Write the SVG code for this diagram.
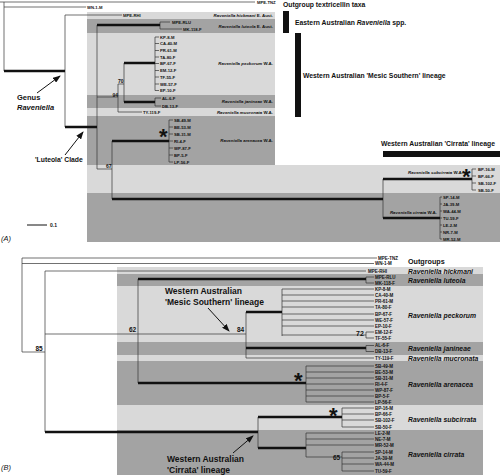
<svg xmlns="http://www.w3.org/2000/svg" width="500" height="475" viewBox="0 0 500 475">
<defs>
<style>
text{font-family:"Liberation Sans",Arial,sans-serif;fill:#111}
.lt{fill:#d9d9d9}.dk{fill:#a3a3a3}
.tn{fill:none;stroke:#333;stroke-width:0.7}
.tk{fill:none;stroke:#111;stroke-width:2.6}
.ta{font-size:4.2px;font-weight:bold}
.tb{font-size:4.5px;font-weight:bold}
.sa{font-size:4.4px;font-weight:bold;font-style:italic}
.sb{font-size:6.8px;font-weight:bold;font-style:italic}
.an{font-size:6.8px;font-weight:bold}
.bn{font-size:8.5px;font-weight:bold}
.nl{font-size:5px;font-weight:bold}
.nb{font-size:6.5px;font-weight:bold}
.st{font-size:22px;font-weight:bold}
.ar{stroke:#111;stroke-width:1;fill:none}
</style>
<marker id="ah" markerUnits="userSpaceOnUse" markerWidth="8" markerHeight="6" refX="7" refY="3" orient="auto"><path d="M0,0 L8,3 L0,6 z" fill="#111"/></marker>
</defs>
<rect width="500" height="475" fill="#fff"/>

<g id="bandsA">
<rect class="lt" x="87" y="12" width="188" height="7"/>
<rect class="dk" x="87" y="19" width="188" height="14"/>
<rect class="lt" x="87" y="33" width="188" height="62"/>
<rect class="dk" x="87" y="95" width="188" height="13"/>
<rect class="lt" x="87" y="108" width="188" height="8"/>
<rect class="dk" x="87" y="116" width="188" height="49"/>
<rect class="lt" x="87" y="165" width="413" height="28"/>
<rect class="dk" x="87" y="193" width="413" height="49"/>
</g>
<g id="bandsB">
<rect class="lt" x="117" y="267" width="366" height="7"/>
<rect class="dk" x="117" y="274" width="366" height="12"/>
<rect class="lt" x="117" y="286" width="366" height="56"/>
<rect class="dk" x="117" y="342" width="366" height="13"/>
<rect class="lt" x="117" y="355" width="366" height="6"/>
<rect class="dk" x="117" y="361" width="366" height="44"/>
<rect class="lt" x="117" y="405" width="366" height="25"/>
<rect class="dk" x="117" y="430" width="366" height="45"/>
</g>

<g id="connectors">
<!-- panel A -->
<path class="tn" d="M0,2 H255 M4,2 V71 M4,7 H86 M65,15 V127 M65,15 H122 M97,25 V169 M160,22 V29 M160,22 H170 M160,29 H182 M97,97 H118 M118,84 V112 M118,84 H124 M118,112 H142 M124,63 V102 M155,37 V90.5 M155,37 H159 M155,43.5 H159 M155,50.5 H159 M155,57 H159 M155,63.5 H159 M155,70.5 H159 M155,77 H159 M155,84 H159 M155,90.5 H159 M155,98 V106 M155,98 H161 M155,106 H161 M97,169 H112 M112,141 V199 M169,120 V162 M169,120 H173 M169,127 H173 M169,134 H173 M169,141 H173 M169,148 H173 M169,155 H173 M169,162 H173 M383,179 V218 M472,169 V190 M472,169 H476 M472,176 H476 M472,183 H476 M472,190 H476 M440,197 V239 M440,197 H442 M440,204 H442 M440,211 H442 M440,218 H442 M440,225 H442 M440,232 H442 M440,239 H442"/>
<path class="tk" d="M4,71 H65 M65,127 H97 M97,25 H160 M124,63 H155 M124,102 H155 M112,141 H169 M112,199 H383 M383,179 H472 M383,218 H440"/>
<!-- panel B -->
<path class="tn" d="M22,258 H377 M22,263.5 H374 M22,258 V352 M22,352 H45 M45,271 V432 M45,271 H366 M45,334 H246 M138,279 V383 M366,277 V283 M366,277 H374 M366,283 H374 M246,312 V358 M282,289 V336 M282,289 H374 M282,295 H374 M282,301 H374 M282,307 H374 M282,314 H374 M282,320 H374 M282,326 H374 M282,335 H366 M366,332 V338 M366,332 H374 M366,338 H374 M366,345.5 V351.5 M366,345.5 H374 M366,351.5 H374 M246,358 H374 M306,366 V402 M306,366 H374 M306,372 H374 M306,378 H374 M306,384 H374 M306,390 H374 M306,396 H374 M306,402 H374 M258,417 V448 M342,408 V427 M342,408 H374 M342,414 H374 M342,420 H374 M342,427 H374 M306,433 V457 M306,433 H374 M306,439 H374 M306,445 H374 M306,457 H342 M342,452 V471 M342,452 H374 M342,458 H374 M342,464 H374 M342,471 H374"/>
<path class="tk" d="M138,279 H366 M246,312 H282 M246,348 H366 M138,383 H306 M45,432 H258 M258,417 H342 M258,448 H306"/>
</g>

<g id="outgroupsA">
<text class="ta" x="257" y="3.5">MPE-TNZ</text>
<text class="ta" x="87" y="8.5">WN-1-M</text>
</g>
<g id="hickmaniA">
<text class="ta" x="123" y="16.5">MPE-RHI</text>
<text class="sa" x="273" y="16.5" text-anchor="end">Raveniella hickmani <tspan font-style="normal">E. Aust.</tspan></text>
</g>
<g id="luteolaA">
<text class="ta" x="172" y="23.5">MPE-RLU</text>
<text class="ta" x="183" y="30.5">MK-118-F</text>
<text class="sa" x="273" y="27.5" text-anchor="end">Raveniella luteola <tspan font-style="normal">E. Aust.</tspan></text>
</g>
<g id="peckorumA">
<text class="ta" x="160" y="38.5">KP-8-M</text>
<text class="ta" x="160" y="45">CA-40-M</text>
<text class="ta" x="160" y="52">PR-61-M</text>
<text class="ta" x="160" y="58.5">TA-80-F</text>
<text class="ta" x="160" y="65">BP-67-F</text>
<text class="ta" x="160" y="72">EM-12-F</text>
<text class="ta" x="160" y="78.5">TF-55-F</text>
<text class="ta" x="160" y="85.5">WE-57-F</text>
<text class="ta" x="160" y="92">EP-10-F</text>
<text class="sa" x="273" y="65" text-anchor="end">Raveniella peckorum <tspan font-style="normal">W.A.</tspan></text>
</g>
<g id="janineaeA">
<text class="ta" x="162" y="99.5">AL-6-F</text>
<text class="ta" x="162" y="107.5">DB-13-F</text>
<text class="sa" x="273" y="103" text-anchor="end">Raveniella janineae <tspan font-style="normal">W.A.</tspan></text>
</g>
<g id="mucronataA">
<text class="ta" x="143" y="113.5">TY-119-F</text>
<text class="sa" x="273" y="114" text-anchor="end">Raveniella mucronata <tspan font-style="normal">W.A.</tspan></text>
</g>
<g id="arenaceaA">
<text class="ta" x="174" y="121.5">SB-49-M</text>
<text class="ta" x="174" y="128.5">BE-53-M</text>
<text class="ta" x="174" y="135.5">SB-31-M</text>
<text class="ta" x="174" y="142.5">RI-4-F</text>
<text class="ta" x="174" y="149.5">WP-87-F</text>
<text class="ta" x="174" y="156.5">BP-5-F</text>
<text class="ta" x="174" y="163.5">LP-56-F</text>
<text class="sa" x="273" y="142" text-anchor="end">Raveniella arenacea <tspan font-style="normal">W.A.</tspan></text>
<text class="st" x="159" y="144">*</text>
</g>
<g id="subcirrataA">
<text class="ta" x="478" y="170.5">BP-16-M</text>
<text class="ta" x="478" y="177.5">BP-66-F</text>
<text class="ta" x="478" y="184.5">SB-102-F</text>
<text class="ta" x="478" y="191.5">SB-50-F</text>
<text class="sa" x="463" y="173.5" text-anchor="end">Raveniella subcirrata <tspan font-style="normal">W.A.</tspan></text>
<text class="st" x="462" y="184">*</text>
</g>
<g id="cirrataA">
<text class="ta" x="443" y="198.5">SP-14-M</text>
<text class="ta" x="443" y="205.5">JA-39-M</text>
<text class="ta" x="443" y="212.5">WA-44-M</text>
<text class="ta" x="443" y="219.5">TU-59-F</text>
<text class="ta" x="443" y="226.5">LE-2-M</text>
<text class="ta" x="443" y="233.5">NR-7-M</text>
<text class="ta" x="443" y="240.5">MR-52-M</text>
<text class="sa" x="437" y="213.5" text-anchor="end">Raveniella cirrata <tspan font-style="normal">W.A.</tspan></text>
</g>
<g id="supportA">
<text class="nl" x="118" y="83">70</text>
<text class="nl" x="112.5" y="96.5">94</text>
<text class="nl" x="106" y="168">67</text>
</g>
<g id="annotationsA">
<text class="an" x="283" y="7">Outgroup textricellin taxa</text>
<rect x="283" y="11" width="6" height="22" fill="#111"/>
<text class="an" x="295" y="24.5">Eastern Australian <tspan font-style="italic">Raveniella</tspan> spp.</text>
<rect x="295" y="33" width="6" height="84" fill="#111"/>
<text class="an" x="303" y="77.5">Western Australian 'Mesic Southern' lineage</text>
<text class="an" x="381" y="146">Western Australian 'Cirrata' lineage</text>
<rect x="383" y="151" width="117" height="6" fill="#111"/>
<text class="an" x="17" y="100" font-size="7.5px" font-style="normal" style="font-size:7.5px">Genus</text>
<text class="an" x="17" y="109.5" style="font-size:7.5px;font-style:italic">Raveniella</text>
<line class="ar" x1="37" y1="93" x2="60" y2="76" marker-end="url(#ah)"/>
<text class="an" x="35" y="161.5">'Luteola' Clade</text>
<line class="ar" x1="65" y1="155" x2="83" y2="132" marker-end="url(#ah)"/>
<line x1="27" y1="225" x2="47" y2="225" stroke="#111" stroke-width="1"/>
<text class="nl" x="50" y="227">0.1</text>
<text x="1" y="241" style="font-size:7.5px;font-style:italic">(A)</text>
</g>

<g id="outgroupsB">
<text class="tb" x="378" y="259.5">MPE-TNZ</text>
<text class="tb" x="375" y="265">WN-1-M</text>
<text x="408" y="263.5" style="font-size:7.2px;font-weight:bold">Outgroups</text>
</g>
<g id="hickmaniB">
<text class="tb" x="368" y="272.5">MPE-RHI</text>
<text class="sb" x="408" y="273.5">Raveniella hickmani</text>
</g>
<g id="luteolaB">
<text class="tb" x="375" y="278.5">MPE-RLU</text>
<text class="tb" x="375" y="284.5">MK-118-F</text>
<text class="sb" x="408" y="282.5">Raveniella luteola</text>
</g>
<g id="peckorumB">
<text class="tb" x="375" y="290.5">KP-8-M</text>
<text class="tb" x="375" y="296.5">CA-40-M</text>
<text class="tb" x="375" y="302.5">PR-61-M</text>
<text class="tb" x="375" y="308.5">TA-80-F</text>
<text class="tb" x="375" y="315.5">BP-67-F</text>
<text class="tb" x="375" y="321.5">WE-57-F</text>
<text class="tb" x="375" y="327.5">EP-10-F</text>
<text class="tb" x="375" y="333.5">EM-12-F</text>
<text class="tb" x="375" y="339.5">TF-55-F</text>
<text class="sb" x="408" y="317.5">Raveniella peckorum</text>
</g>
<g id="janineaeB">
<text class="tb" x="375" y="347">AL-6-F</text>
<text class="tb" x="375" y="353">DB-13-F</text>
<text class="sb" x="408" y="350.5">Raveniella janineae</text>
</g>
<g id="mucronataB">
<text class="tb" x="375" y="359.5">TY-119-F</text>
<text class="sb" x="408" y="360.5">Raveniella mucronata</text>
</g>
<g id="arenaceaB">
<text class="tb" x="375" y="367.5">SB-49-M</text>
<text class="tb" x="375" y="373.5">BE-53-M</text>
<text class="tb" x="375" y="379.5">SB-31-M</text>
<text class="tb" x="375" y="385.5">RI-4-F</text>
<text class="tb" x="375" y="391.5">WP-87-F</text>
<text class="tb" x="375" y="397.5">BP-5-F</text>
<text class="tb" x="375" y="403.5">LP-56-F</text>
<text class="sb" x="408" y="386.5">Raveniella arenacea</text>
<text class="st" x="294" y="388">*</text>
</g>
<g id="subcirrataB">
<text class="tb" x="375" y="409.5">BP-16-M</text>
<text class="tb" x="375" y="415.5">BP-66-F</text>
<text class="tb" x="375" y="421.5">SB-102-F</text>
<text class="tb" x="375" y="428.5">SB-50-F</text>
<text class="sb" x="408" y="421.5">Raveniella subcirrata</text>
<text class="st" x="329" y="423">*</text>
</g>
<g id="cirrataB">
<text class="tb" x="375" y="434.5">LE-2-M</text>
<text class="tb" x="375" y="440.5">NE-7-M</text>
<text class="tb" x="375" y="446.5">MR-52-M</text>
<text class="tb" x="375" y="453.5">SP-14-M</text>
<text class="tb" x="375" y="459.5">JA-39-M</text>
<text class="tb" x="375" y="465.5">WA-44-M</text>
<text class="tb" x="375" y="472.5">TU-59-F</text>
<text class="sb" x="408" y="456.5">Raveniella cirrata</text>
</g>
<g id="supportB">
<text class="nb" x="35.5" y="351">85</text>
<text class="nb" x="129" y="332">62</text>
<text class="nb" x="237" y="332">84</text>
<text class="nb" x="356" y="336" style="font-size:7px">72</text>
<text class="nb" x="333" y="460">65</text>
</g>
<g id="annotationsB">
<text class="bn" x="165" y="294">Western Australian</text>
<text class="bn" x="165" y="305">'Mesic Southern' lineage</text>
<line class="ar" x1="208" y1="308" x2="229" y2="331" marker-end="url(#ah)"/>
<text class="bn" x="167" y="462">Western Australian</text>
<text class="bn" x="167" y="473">'Cirrata' lineage</text>
<line class="ar" x1="233" y1="453" x2="253" y2="436" marker-end="url(#ah)"/>
<text x="1" y="470" style="font-size:7.5px;font-style:italic">(B)</text>
</g>
</svg>
